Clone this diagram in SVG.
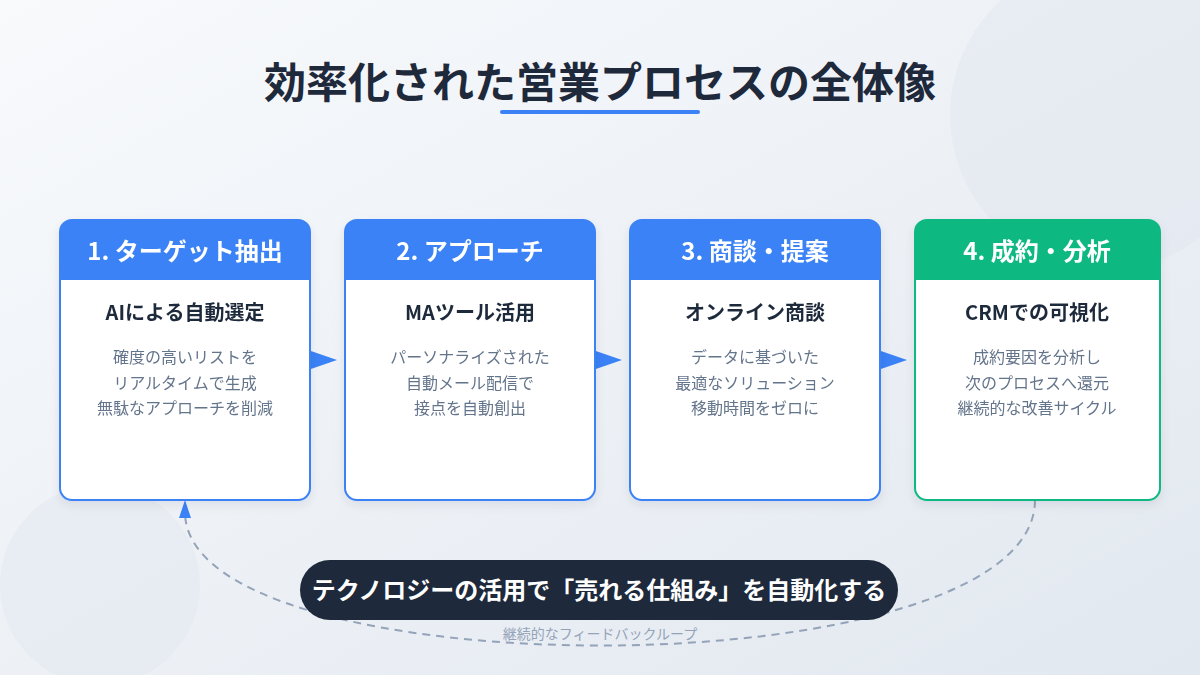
<svg xmlns="http://www.w3.org/2000/svg" width="1200" height="675" viewBox="0 0 1200 675">
<defs>
<linearGradient id="bg" x1="0" y1="0" x2="1" y2="1">
<stop offset="0" stop-color="#f8fafc"/>
<stop offset="1" stop-color="#e2e8f0"/>
</linearGradient>
<filter id="sh" x="-10%" y="-10%" width="120%" height="125%">
<feDropShadow dx="0" dy="4" stdDeviation="5" flood-color="#1e293b" flood-opacity="0.08"/>
</filter>
<style>
text{font-family:"Noto Sans CJK JP","Noto Sans",sans-serif;text-anchor:middle}
.title{font-size:42px;font-weight:700;fill:#1e293b}
.hd{font-size:24px;font-weight:700;fill:#ffffff}
.sub{font-size:20px;font-weight:700;fill:#1e293b}
.body{font-size:16px;fill:#64748b}
.card{fill:#ffffff;stroke-width:2}
.blue .card{stroke:#3b82f6}
.blue .hfill{fill:#3b82f6}
.green .card{stroke:#10b981}
.green .hfill{fill:#10b981}
.arrow{fill:#3b82f6}
.pill{font-size:24px;font-weight:700;fill:#ffffff}
.fb{font-size:14px;fill:#94a3b8}
</style>
</defs>
<rect width="1200" height="675" fill="url(#bg)"/>
<circle cx="1105" cy="115" r="155" fill="#e2e8f0" opacity="0.6"/>
<circle cx="100" cy="585" r="100" fill="#e2e8f0" opacity="0.5"/>

<g id="title">
<text class="title" x="600" y="98">効率化された営業プロセスの全体像</text>
<rect x="500" y="110" width="200" height="4" rx="2" fill="#3b82f6"/>
</g>

<g id="connectors">
<path class="arrow" d="M308,350 L337,360 L308,370 z"/>
<path class="arrow" d="M593,350 L622,360 L593,370 z"/>
<path class="arrow" d="M878,350 L907,360 L878,370 z"/>
<path d="M1035,500 C1035,692 185,692 185,512" fill="none" stroke="#94a3b8" stroke-width="2" stroke-dasharray="8,6"/>
<path class="arrow" d="M185,500 L191,518 L179,518 z"/>
<text class="fb" x="600" y="639">継続的なフィードバックループ</text>
</g>

<g id="card1" class="blue" filter="url(#sh)">
<rect class="card" x="60" y="220" width="250" height="280" rx="12"/>
<path class="hfill" d="M60,280 V232 A12,12 0 0 1 72,220 H298 A12,12 0 0 1 310,232 V280 z"/>
<text class="hd" x="185" y="260">1. ターゲット抽出</text>
<text class="sub" x="185" y="320">AIによる自動選定</text>
<text class="body" x="185" y="363">確度の高いリストを</text>
<text class="body" x="185" y="389">リアルタイムで生成</text>
<text class="body" x="185" y="414">無駄なアプローチを削減</text>
</g>

<g id="card2" class="blue" filter="url(#sh)">
<rect class="card" x="345" y="220" width="250" height="280" rx="12"/>
<path class="hfill" d="M345,280 V232 A12,12 0 0 1 357,220 H583 A12,12 0 0 1 595,232 V280 z"/>
<text class="hd" x="470" y="260">2. アプローチ</text>
<text class="sub" x="470" y="320">MAツール活用</text>
<text class="body" x="470" y="363">パーソナライズされた</text>
<text class="body" x="470" y="389">自動メール配信で</text>
<text class="body" x="470" y="414">接点を自動創出</text>
</g>

<g id="card3" class="blue" filter="url(#sh)">
<rect class="card" x="630" y="220" width="250" height="280" rx="12"/>
<path class="hfill" d="M630,280 V232 A12,12 0 0 1 642,220 H868 A12,12 0 0 1 880,232 V280 z"/>
<text class="hd" x="755" y="260">3. 商談・提案</text>
<text class="sub" x="755" y="320">オンライン商談</text>
<text class="body" x="755" y="363">データに基づいた</text>
<text class="body" x="755" y="389">最適なソリューション</text>
<text class="body" x="755" y="414">移動時間をゼロに</text>
</g>

<g id="card4" class="green" filter="url(#sh)">
<rect class="card" x="915" y="220" width="245" height="280" rx="12"/>
<path class="hfill" d="M915,280 V232 A12,12 0 0 1 927,220 H1148 A12,12 0 0 1 1160,232 V280 z"/>
<text class="hd" x="1037" y="260">4. 成約・分析</text>
<text class="sub" x="1037" y="320">CRMでの可視化</text>
<text class="body" x="1037" y="363">成約要因を分析し</text>
<text class="body" x="1037" y="389">次のプロセスへ還元</text>
<text class="body" x="1037" y="414">継続的な改善サイクル</text>
</g>

<g id="banner">
<rect x="300" y="560" width="598" height="60" rx="30" fill="#1e293b"/>
<text class="pill" x="599" y="599">テクノロジーの活用で「売れる仕組み」を自動化する</text>
</g>
</svg>
